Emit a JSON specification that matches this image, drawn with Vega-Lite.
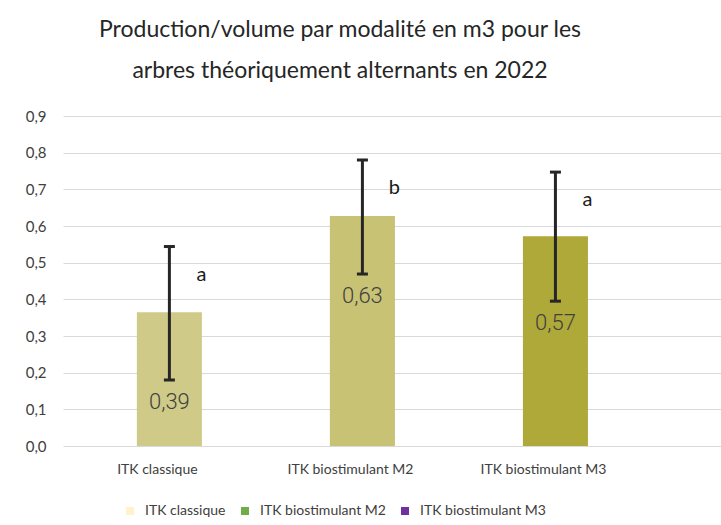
{
  "$schema": "https://vega.github.io/schema/vega-lite/v6.json",
  "width": 658,
  "height": 330,
  "autosize": {"type": "none"},
  "padding": {"left": 63, "top": 116, "right": 0, "bottom": 79},
  "background": "white",
  "config": {
    "view": {"stroke": null},
    "axisY": {
      "title": null,
      "tickCount": 10,
      "labelOverlap": false,
      "grid": true,
      "gridColor": "#d9d9d9",
      "gridWidth": 1,
      "domain": false,
      "ticks": false,
      "labelPadding": 17,
      "labelFont": "Lato",
      "labelFontSize": 15,
      "labelColor": "#404040"
    }
  },
  "title": {
    "text": ["Production/volume par modalité en m3 pour les", "arbres théoriquement alternants en 2022"],
    "font": "Lato",
    "fontSize": 23,
    "fontWeight": "normal",
    "color": "#262626",
    "anchor": "middle",
    "frame": "group",
    "dx": -52,
    "offset": 26,
    "lineHeight": 41
  },
  "data": {
    "values": [
      {"modalite": "ITK classique", "production": 0.365, "bas": 0.18, "haut": 0.544, "etiquette": "0,39", "groupe": "a"},
      {"modalite": "ITK biostimulant M2", "production": 0.627, "bas": 0.469, "haut": 0.78, "etiquette": "0,63", "groupe": "b"},
      {"modalite": "ITK biostimulant M3", "production": 0.572, "bas": 0.395, "haut": 0.747, "etiquette": "0,57", "groupe": "a"}
    ]
  },
  "encoding": {
    "x": {
      "field": "modalite",
      "type": "nominal",
      "sort": null,
      "scale": {"paddingInner": 0.663, "paddingOuter": 0.536, "align": 0.357},
      "axis": {
        "title": null,
        "labelAngle": 0,
        "domain": false,
        "ticks": false,
        "labelPadding": 16,
        "labelOffset": -12,
        "labelFont": "Lato",
        "labelFontSize": 14,
        "labelColor": "#404040"
      }
    }
  },
  "layer": [
    {
      "mark": {"type": "point", "shape": "square", "filled": true, "opacity": 1, "size": 4},
      "encoding": {
        "y": {
          "datum": 0.2,
          "type": "quantitative",
          "scale": {"domain": [0, 0.9], "nice": false},
          "axis": {
            "title": null,
            "values": [0, 0.1, 0.2, 0.3, 0.4, 0.5, 0.6, 0.7, 0.8, 0.9],
            "labelExpr": "replace(format(datum.value, '.1f'), '.', ',')"
          }
        },
        "color": {
          "field": "modalite",
          "type": "nominal",
          "scale": {
            "domain": ["ITK classique", "ITK biostimulant M2", "ITK biostimulant M3"],
            "range": ["#fff2cc", "#70ad47", "#7030a0"]
          },
          "legend": {
            "title": null,
            "orient": "none",
            "legendX": 60,
            "legendY": 388,
            "direction": "horizontal",
            "padding": 0,
            "symbolType": "square",
            "symbolSize": 64,
            "symbolStrokeWidth": 0,
            "labelFont": "Lato",
            "labelFontSize": 14,
            "labelColor": "#404040",
            "labelOffset": 8,
            "columnPadding": 12,
            "labelLimit": 300
          }
        }
      }
    },
    {
      "mark": {"type": "bar"},
      "encoding": {
        "y": {
          "field": "production",
          "type": "quantitative",
          "scale": {"domain": [0, 0.9], "nice": false},
          "axis": {
            "title": null,
            "values": [0, 0.1, 0.2, 0.3, 0.4, 0.5, 0.6, 0.7, 0.8, 0.9],
            "labelExpr": "replace(format(datum.value, '.1f'), '.', ',')"
          }
        },
        "fill": {
          "field": "modalite",
          "type": "nominal",
          "scale": {
            "domain": ["ITK classique", "ITK biostimulant M2", "ITK biostimulant M3"],
            "range": ["#cfca88", "#c8c274", "#afa939"]
          },
          "legend": null
        }
      }
    },
    {
      "mark": {"type": "rule", "color": "#262626", "strokeWidth": 3},
      "encoding": {
        "y": {"field": "bas", "type": "quantitative", "axis": {"values": [0, 0.1, 0.2, 0.3, 0.4, 0.5, 0.6, 0.7, 0.8, 0.9], "labelExpr": "replace(format(datum.value, '.1f'), '.', ',')"}},
        "y2": {"field": "haut"}
      }
    },
    {
      "mark": {"type": "tick", "color": "#262626", "size": 11, "thickness": 3, "opacity": 1},
      "encoding": {"y": {"field": "bas", "type": "quantitative", "axis": {"values": [0, 0.1, 0.2, 0.3, 0.4, 0.5, 0.6, 0.7, 0.8, 0.9], "labelExpr": "replace(format(datum.value, '.1f'), '.', ',')"}}}
    },
    {
      "mark": {"type": "tick", "color": "#262626", "size": 11, "thickness": 3, "opacity": 1},
      "encoding": {"y": {"field": "haut", "type": "quantitative", "axis": {"values": [0, 0.1, 0.2, 0.3, 0.4, 0.5, 0.6, 0.7, 0.8, 0.9], "labelExpr": "replace(format(datum.value, '.1f'), '.', ',')"}}}
    },
    {
      "mark": {"type": "text", "font": "Roboto", "fontWeight": 300, "fontSize": 22, "color": "#404040", "baseline": "middle", "dy": 22},
      "encoding": {
        "y": {"field": "bas", "type": "quantitative", "axis": {"values": [0, 0.1, 0.2, 0.3, 0.4, 0.5, 0.6, 0.7, 0.8, 0.9], "labelExpr": "replace(format(datum.value, '.1f'), '.', ',')"}},
        "text": {"field": "etiquette"}
      }
    },
    {
      "mark": {"type": "text", "font": "Lato", "fontSize": 20, "color": "#1a1a1a", "baseline": "middle", "dy": 28, "dx": 32},
      "encoding": {
        "y": {"field": "haut", "type": "quantitative", "axis": {"values": [0, 0.1, 0.2, 0.3, 0.4, 0.5, 0.6, 0.7, 0.8, 0.9], "labelExpr": "replace(format(datum.value, '.1f'), '.', ',')"}},
        "text": {"field": "groupe"}
      }
    }
  ]
}
